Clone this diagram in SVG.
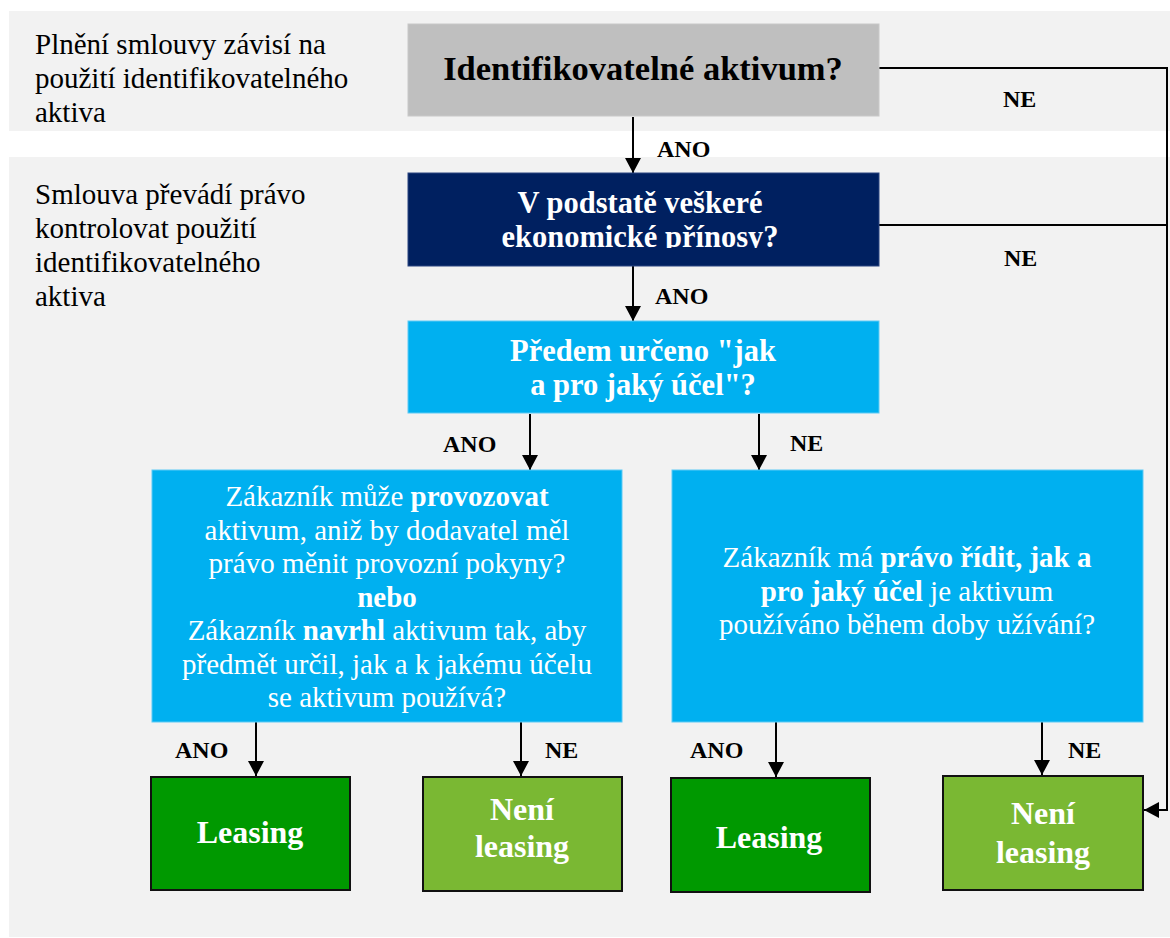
<svg xmlns="http://www.w3.org/2000/svg" width="1170" height="938" viewBox="0 0 1170 938">
  <style>
    text { font-family: "Liberation Serif", "Times New Roman", serif; }
    .band { fill: #f2f2f2; }
    .note { font-size: 29px; fill: #000; }
    .q { font-size: 30.5px; font-weight: bold; fill: #fff; text-anchor: middle; }
    .body { font-size: 29px; fill: #fff; text-anchor: middle; }
    .b { font-weight: bold; }
    .lbl { font-size: 24px; font-weight: bold; fill: #000; }
    .res { font-size: 32px; font-weight: bold; fill: #fff; text-anchor: middle; }
    .wire { fill: none; stroke: #000; stroke-width: 2; }
    .outcome { stroke: #111; stroke-width: 2; }
  </style>
  <defs>
    <marker id="arrow" viewBox="0 0 15 16" refX="15" refY="8" markerWidth="15" markerHeight="16" markerUnits="userSpaceOnUse" orient="auto">
      <path d="M0,0 L15,8 L0,16 Z" fill="#000"/>
    </marker>
    <clipPath id="clipBenefits">
      <rect x="408" y="173" width="471" height="75"/>
    </clipPath>
  </defs>

  <!-- background bands -->
  <rect class="band" x="9" y="11" width="1161" height="120"/>
  <rect class="band" x="9" y="157" width="1161" height="780"/>

  <!-- side notes -->
  <g id="note-identified">
    <text class="note" x="35" y="54">Plnění smlouvy závisí na</text>
    <text class="note" x="35" y="88">použití identifikovatelného</text>
    <text class="note" x="35" y="122">aktiva</text>
  </g>
  <g id="note-control">
    <text class="note" x="35" y="204">Smlouva převádí právo</text>
    <text class="note" x="35" y="238">kontrolovat použití</text>
    <text class="note" x="35" y="272">identifikovatelného</text>
    <text class="note" x="35" y="306">aktiva</text>
  </g>

  <!-- connectors -->
  <g id="connectors">
    <line class="wire" x1="633" y1="117" x2="633" y2="173" marker-end="url(#arrow)"/>
    <line class="wire" x1="633" y1="266" x2="633" y2="321" marker-end="url(#arrow)"/>
    <line class="wire" x1="530" y1="414" x2="530" y2="470" marker-end="url(#arrow)"/>
    <line class="wire" x1="759" y1="414" x2="759" y2="470" marker-end="url(#arrow)"/>
    <line class="wire" x1="256" y1="722" x2="256" y2="776" marker-end="url(#arrow)"/>
    <line class="wire" x1="521" y1="722" x2="521" y2="776" marker-end="url(#arrow)"/>
    <line class="wire" x1="776" y1="722" x2="776" y2="777" marker-end="url(#arrow)"/>
    <line class="wire" x1="1042" y1="722" x2="1042" y2="775" marker-end="url(#arrow)"/>
    <polyline class="wire" points="879,68 1167,68 1167,810 1144,810" marker-end="url(#arrow)"/>
    <line class="wire" x1="879" y1="225" x2="1167" y2="225"/>

    <text class="lbl" x="657" y="157">ANO</text>
    <text class="lbl" x="655" y="304">ANO</text>
    <text class="lbl" x="1003" y="107">NE</text>
    <text class="lbl" x="1004" y="266">NE</text>
    <text class="lbl" x="443" y="452">ANO</text>
    <text class="lbl" x="790" y="451">NE</text>
    <text class="lbl" x="175" y="758">ANO</text>
    <text class="lbl" x="545" y="758">NE</text>
    <text class="lbl" x="690" y="758">ANO</text>
    <text class="lbl" x="1068" y="758">NE</text>
  </g>

  <!-- decisions -->
  <g id="q-identified">
    <rect x="408" y="24" width="471" height="92" fill="#bfbfbf" stroke="#c8c8c8" stroke-width="1"/>
    <text x="643" y="80" font-size="34.5" font-weight="bold" fill="#000" text-anchor="middle">Identifikovatelné aktivum?</text>
  </g>

  <g id="q-benefits">
    <rect x="408" y="173" width="471" height="93" fill="#002060" stroke="#2a4580" stroke-width="1"/>
    <g clip-path="url(#clipBenefits)">
      <text class="q" x="640" y="213">V podstatě veškeré</text>
      <text class="q" x="640" y="247">ekonomické přínosy?</text>
    </g>
  </g>

  <g id="q-predetermined">
    <rect x="408" y="321" width="471" height="92" fill="#00b0f0" stroke="#5ccaf5" stroke-width="1"/>
    <text class="q" x="643" y="361">Předem určeno "jak</text>
    <text class="q" x="643" y="395">a pro jaký účel"?</text>
  </g>

  <g id="q-operate">
    <rect x="152" y="470" width="470" height="252" fill="#00b0f0" stroke="#5ccaf5" stroke-width="1"/>
    <text class="body" x="387" y="506">Zákazník může <tspan class="b">provozovat</tspan></text>
    <text class="body" x="387" y="539.5">aktivum, aniž by dodavatel měl</text>
    <text class="body" x="387" y="573">právo měnit provozní pokyny?</text>
    <text class="body b" x="387" y="606.5">nebo</text>
    <text class="body" x="387" y="640">Zákazník <tspan class="b">navrhl</tspan> aktivum tak, aby</text>
    <text class="body" x="387" y="673.5">předmět určil, jak a k jakému účelu</text>
    <text class="body" x="387" y="707">se aktivum používá?</text>
  </g>

  <g id="q-direct">
    <rect x="672" y="470" width="471" height="252" fill="#00b0f0" stroke="#5ccaf5" stroke-width="1"/>
    <text class="body" x="907" y="567">Zákazník má <tspan class="b">právo řídit, jak a</tspan></text>
    <text class="body" x="907" y="601"><tspan class="b">pro jaký účel</tspan> je aktivum</text>
    <text class="body" x="907" y="634">používáno během doby užívání?</text>
  </g>

  <!-- outcomes -->
  <g id="r-lease-1">
    <rect class="outcome" x="151" y="777" width="199" height="113" fill="#009900"/>
    <text class="res" x="250" y="843">Leasing</text>
  </g>
  <g id="r-nolease-1">
    <rect class="outcome" x="423" y="777" width="199" height="114" fill="#7ab833"/>
    <text class="res" x="522" y="820">Není</text>
    <text class="res" x="522" y="857">leasing</text>
  </g>
  <g id="r-lease-2">
    <rect class="outcome" x="671" y="778" width="199" height="114" fill="#009900"/>
    <text class="res" x="769" y="848">Leasing</text>
  </g>
  <g id="r-nolease-2">
    <rect class="outcome" x="943" y="776" width="200" height="114" fill="#7ab833"/>
    <text class="res" x="1043" y="824">Není</text>
    <text class="res" x="1043" y="863">leasing</text>
  </g>
</svg>
